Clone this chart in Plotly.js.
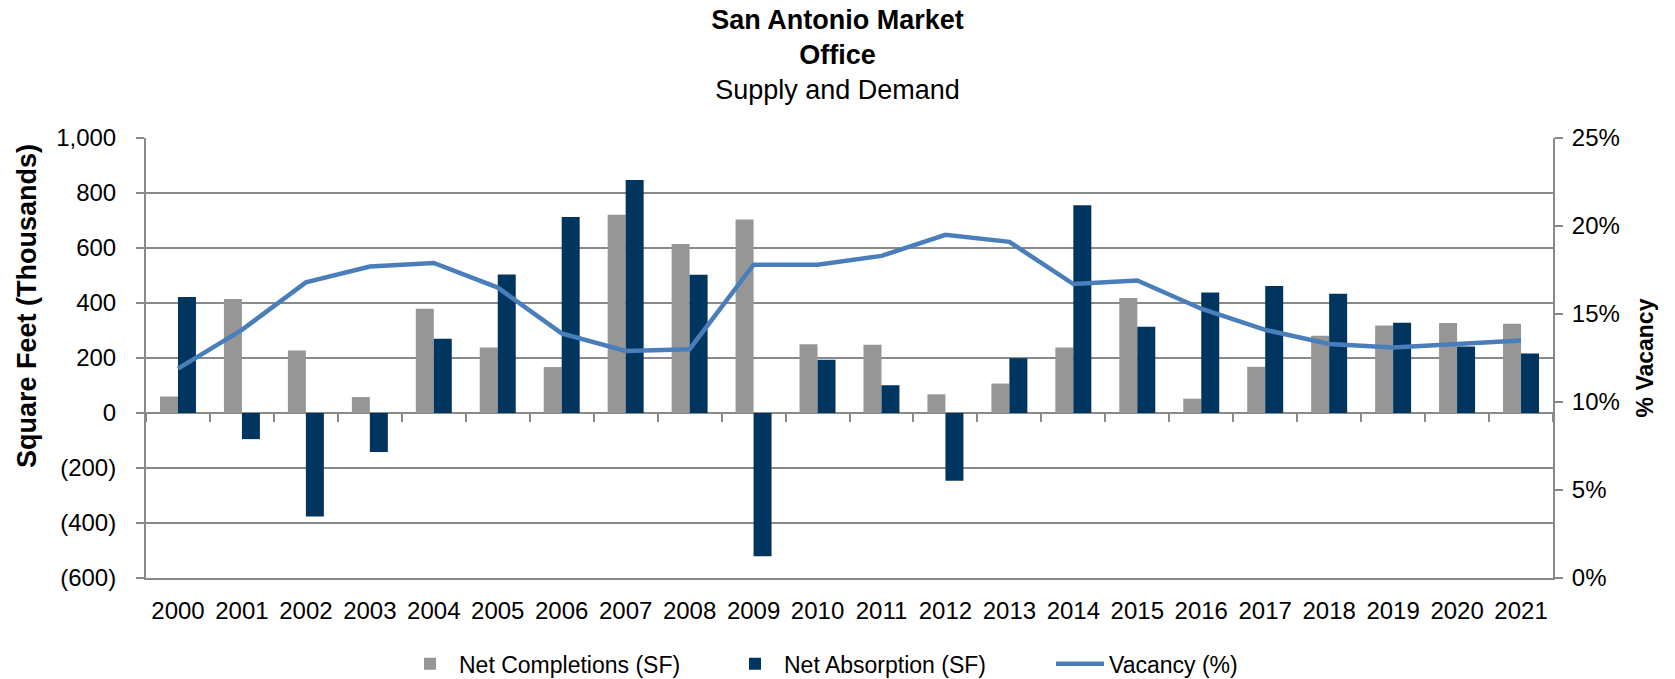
<!DOCTYPE html>
<html>
<head>
<meta charset="utf-8">
<script src="https://cdn.plot.ly/plotly-3.0.1.min.js"></script>
<style>
  html, body { margin: 0; padding: 0; background: #ffffff; }
  #chart { width: 1675px; height: 679px; }
</style>
</head>
<body>
<div id="chart"></div>
<script>
// ---- Data ----
const years = ['2000','2001','2002','2003','2004','2005','2006','2007','2008','2009','2010',
               '2011','2012','2013','2014','2015','2016','2017','2018','2019','2020','2021'];
const netCompletions = [60, 415, 227, 58, 379, 238, 167, 721, 615, 704, 250,
                        248, 68, 107, 238, 418, 52, 168, 281, 318, 327, 325];
const netAbsorption = [422, -95, -376, -142, 270, 504, 713, 847, 503, -521, 194,
                       101, -246, 199, 755, 314, 438, 462, 434, 328, 242, 216];
const vacancy = [11.9, 14.1, 16.8, 17.7, 17.9, 16.5, 13.9, 12.9, 13.0, 17.8, 17.8,
                 18.3, 19.5, 19.1, 16.7, 16.9, 15.3, 14.1, 13.3, 13.1, 13.3, 13.5];

const leftTickVals = [-600, -400, -200, 0, 200, 400, 600, 800, 1000];
const leftTickText = ['(600)', '(400)', '(200)', '0', '200', '400', '600', '800', '1,000'];
const rightTickVals = [0, 5, 10, 15, 20, 25];
const rightTickText = ['0%', '5%', '10%', '15%', '20%', '25%'];

const seriesNames = ['Net Completions (SF)', 'Net Absorption (SF)', 'Vacancy (%)'];

// ---- Styles ----
const FONT = 'Liberation Sans, Arial, sans-serif';
const GRID = '#8a8a8a';
const catRange = [-0.5, years.length - 0.5];

const traces = [
  {
    type: 'bar', name: seriesNames[0], x: years, y: netCompletions,
    marker: { color: '#969696' }, xaxis: 'x', yaxis: 'y'
  },
  {
    type: 'bar', name: seriesNames[1], x: years, y: netAbsorption,
    marker: { color: '#003560' }, xaxis: 'x', yaxis: 'y'
  },
  {
    type: 'scatter', mode: 'lines', name: seriesNames[2], x: years, y: vacancy,
    line: { color: '#4a7ebb', width: 4.5 }, xaxis: 'x2', yaxis: 'y2'
  }
];

const layout = {
  width: 1675, height: 679,
  autosize: false,
  paper_bgcolor: '#ffffff', plot_bgcolor: '#ffffff',
  margin: { l: 146, r: 122, t: 138, b: 101, autoexpand: false },
  font: { family: FONT, color: '#000000', size: 24 },
  title: {
    text: '<b>San Antonio Market</b><br><b>Office</b><br>Supply and Demand',
    font: { family: FONT, size: 27, color: '#000000' },
    x: 0.5, xanchor: 'center', xref: 'container',
    y: 0.957, yanchor: 'top', yref: 'container'
  },
  barmode: 'group', bargap: 0.4375, bargroupgap: 0,
  showlegend: true,
  legend: {
    orientation: 'h', x: (401 - 146) / 1407, xanchor: 'left',
    y: -0.195, yanchor: 'middle',
    font: { family: FONT, size: 23, color: '#000000' },
    itemwidth: 48, entrywidth: 262, entrywidthmode: 'pixels', traceorder: 'normal'
  },
  xaxis: {
    type: 'category', categoryarray: years, range: catRange,
    showgrid: false, zeroline: false, automargin: false,
    showline: true, linecolor: GRID, linewidth: 2,
    ticks: '', tickangle: 0, tickfont: { family: FONT, size: 24, color: '#000' },
    ticklabelstandoff: 10
  },
  xaxis2: {
    type: 'category', categoryarray: years, range: catRange,
    overlaying: 'x', anchor: 'free', position: 0.375, side: 'bottom',
    showgrid: false, zeroline: false, showline: false, automargin: false,
    showticklabels: false, ticks: 'outside', tickson: 'boundaries',
    ticklen: 8, tickwidth: 2, tickcolor: GRID
  },
  yaxis: {
    range: [-600, 1000], tickvals: leftTickVals, ticktext: leftTickText,
    showgrid: true, gridcolor: GRID, gridwidth: 2, automargin: false,
    zeroline: true, zerolinecolor: GRID, zerolinewidth: 2,
    showline: true, linecolor: GRID, linewidth: 2,
    ticks: 'outside', ticklen: 8, tickwidth: 2, tickcolor: GRID,
    tickfont: { family: FONT, size: 24, color: '#000' },
    ticklabelstandoff: 15
  },
  yaxis2: {
    range: [0, 25], tickvals: rightTickVals, ticktext: rightTickText,
    overlaying: 'y', side: 'right', anchor: 'x', automargin: false,
    showgrid: false, zeroline: false,
    showline: true, linecolor: GRID, linewidth: 2,
    ticks: 'outside', ticklen: 8, tickwidth: 2, tickcolor: GRID,
    tickfont: { family: FONT, size: 24, color: '#000' },
    ticklabelstandoff: 4,
    title: { text: '<b>% Vacancy</b>', font: { family: FONT, size: 23, color: '#000' }, standoff: 18 }
  },
  annotations: [
    {
      text: '<b>Square Feet (Thousands)</b>', textangle: -90,
      xref: 'paper', yref: 'paper',
      x: (27 - 146) / 1407, y: (578 - 306) / 440,
      xanchor: 'center', yanchor: 'middle', showarrow: false,
      font: { family: FONT, size: 27, color: '#000' }
    }
  ]
};

Plotly.newPlot('chart', traces, layout, { staticPlot: true, displayModeBar: false });
</script>
</body>
</html>
